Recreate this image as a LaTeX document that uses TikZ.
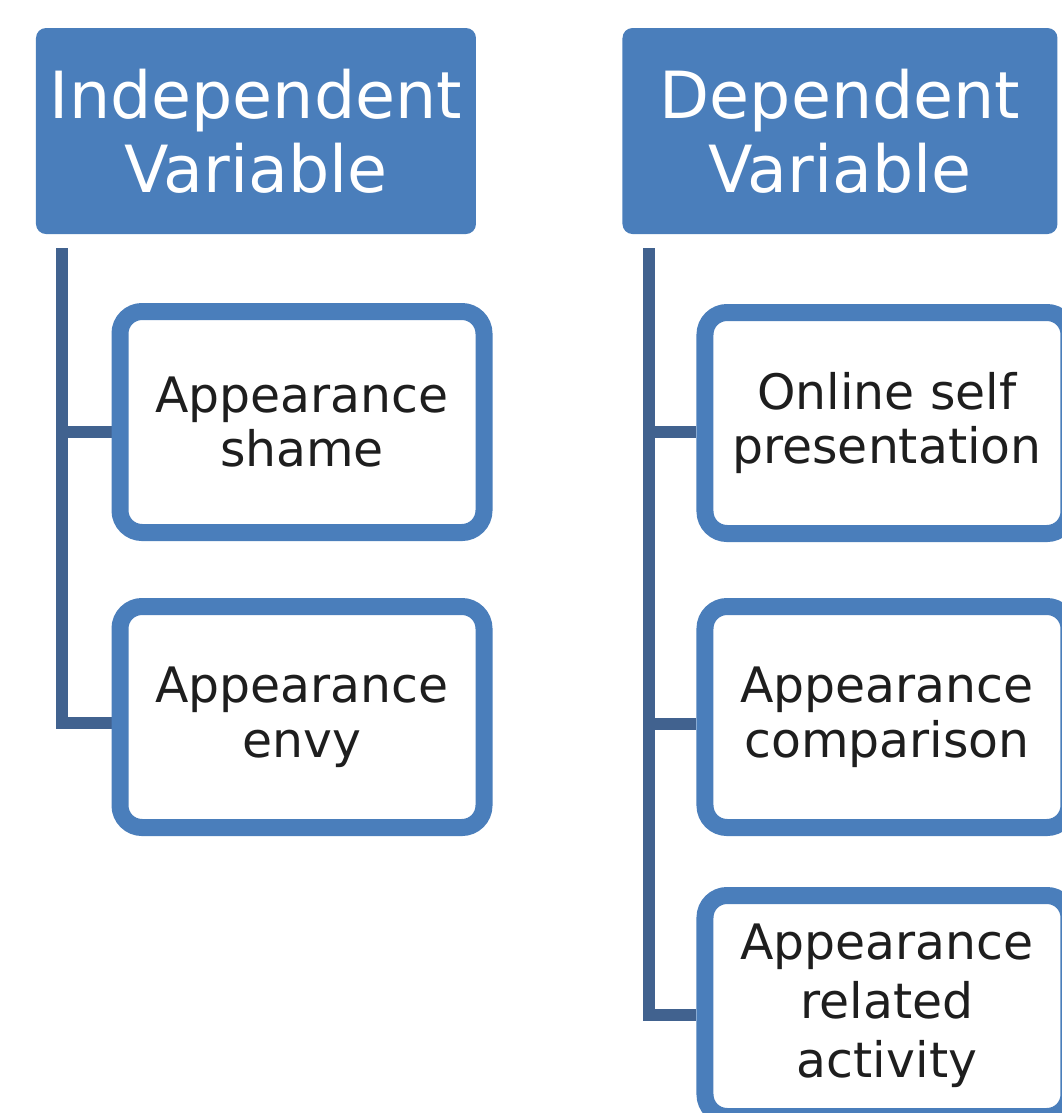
\documentclass[tikz,border=0pt]{standalone}
\usepackage{fontspec}
\setmainfont{DejaVu Sans}
\usetikzlibrary{positioning,backgrounds}
\definecolor{boxblue}{HTML}{4A7EBB}
\definecolor{linkblue}{HTML}{41628F}
\definecolor{textgray}{HTML}{1E1E1E}

\begin{document}
\begin{tikzpicture}[
    head/.style={fill=boxblue,text=white,rounded corners=0.1cm,minimum width=4.4cm,minimum height=2.06cm,align=center,font=\fontsize{18.5}{21}\selectfont},
    leaf/.style={draw=boxblue,line width=0.17cm,fill=white,rounded corners=0.22cm,minimum width=3.64cm,minimum height=2.21cm,align=center,text=textgray,font=\fontsize{13.9}{15.6}\selectfont},
    trunk/.style={draw=linkblue,line width=0.12cm}]
      \path[use as bounding box,clip] (0,0) rectangle (10.62,-11.13);
      \node[head] (indep) at (2.56,-1.31) {Independent\\Variable};
      \node[head,minimum width=4.35cm] (dep) at (8.40,-1.31) {Dependent\\Variable};
      \node[leaf] (shame) at (3.02,-4.22) {Appearance\\shame};
      \node[leaf] (envy) at (3.02,-7.17) {Appearance\\envy};
      \node[leaf] (online) at (8.87,-4.23) {Online self\\presentation};
      \node[leaf] (compare) at (8.87,-7.17) {Appearance\\comparison};
      \node[leaf,font=\fontsize{13.9}{16.8}\selectfont] (activity) at (8.87,-10.06) {Appearance\\related\\activity};
      \coordinate (rootL) at (0.62,-2.48);
      \coordinate (rootR) at (6.49,-2.48);
      % branches sit a little below the box centres
      \begin{scope}[on background layer]
        \draw [trunk] (rootL) |- ([yshift=-0.1cm]shame.west);
        \draw [trunk] (rootL) |- ([yshift=-0.06cm]envy.west);
        \draw [trunk] (rootR) |- ([yshift=-0.09cm]online.west);
        \draw [trunk] (rootR) |- ([yshift=-0.07cm]compare.west);
        \draw [trunk] (rootR) |- ([yshift=-0.09cm]activity.west);
      \end{scope}
    \end{tikzpicture}
\end{document}
